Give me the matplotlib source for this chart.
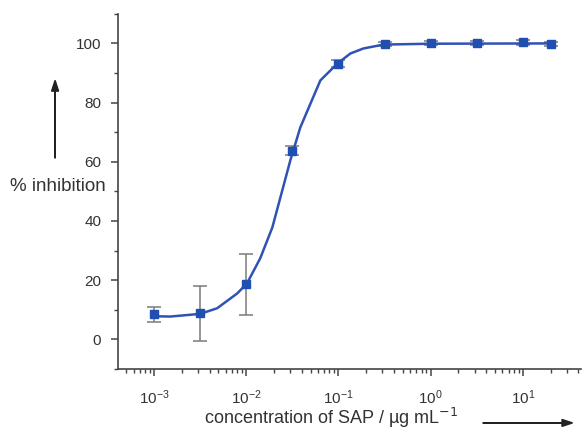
import numpy as np
import matplotlib
matplotlib.use('Agg')
from matplotlib import pyplot as plt
from matplotlib.ticker import LogLocator, MultipleLocator

plt.rcParams['font.family'] = ['Liberation Sans', 'DejaVu Sans']

# measured points
conc = [0.001, 0.00316, 0.01, 0.0316, 0.1, 0.316, 1.0, 3.16, 10.0, 20.0]
inhibition = [8.5, 9.0, 18.8, 63.8, 93.2, 99.8, 100.3, 100.2, 100.4, 99.8]
err_low = [2.5, 9.5, 10.6, 1.6, 1.2, 0.8, 0.8, 0.6, 0.8, 0.8]
err_high = [2.5, 9.0, 10.2, 1.5, 1.3, 0.8, 0.6, 0.6, 0.6, 0.8]

# fitted curve
fit_conc = [0.001, 0.0015, 0.00316, 0.00484, 0.00798, 0.0102, 0.0142, 0.0192,
            0.0246, 0.0301, 0.0386, 0.0637, 0.0975, 0.135, 0.187, 0.308,
            1.0, 20.0]
fit_inh = [7.8, 7.7, 8.6, 10.5, 15.5, 18.9, 27.4, 37.8, 50.3, 60.5, 71.6,
           87.5, 93.2, 96.6, 98.3, 99.6, 99.9, 100.0]

text_col = '#333333'
line_col = '#3052b5'
mark_col = '#1f4fb0'

fig = plt.figure(figsize=(5.86, 4.32), dpi=100)
ax = fig.add_axes([0.2014, 0.146, 0.79, 0.822])

ax.plot(fit_conc, fit_inh, color=line_col, linewidth=1.8, zorder=2)
ax.errorbar(conc, inhibition, yerr=[err_low, err_high], fmt='none',
            ecolor='#7a7a7a', elinewidth=1.1, capsize=5, capthick=1.1, zorder=1)
ax.plot(conc, inhibition, 's', color=mark_col, markersize=6, zorder=3)

ax.set_xscale('log')
ax.set_xlim(10 ** -3.39, 10 ** 1.63)
ax.set_ylim(-10, 110)
ax.yaxis.set_major_locator(MultipleLocator(20))
ax.yaxis.set_minor_locator(MultipleLocator(10))
ax.xaxis.set_major_locator(LogLocator(base=10, numticks=10))
ax.xaxis.set_minor_locator(LogLocator(base=10, subs=np.arange(2, 10), numticks=20))

for side in ['top', 'right']:
    ax.spines[side].set_visible(False)
for side in ['left', 'bottom']:
    ax.spines[side].set_color('#444444')
    ax.spines[side].set_linewidth(1.2)

ax.tick_params(which='major', direction='out', length=5, width=1.1,
               color='#444444', labelsize=11, labelcolor=text_col)
ax.tick_params(axis='y', which='major', pad=7)
ax.tick_params(axis='x', which='major', pad=9)
ax.tick_params(which='minor', direction='out', length=3, width=1.0,
               color='#444444')

fig.text(0.017, 0.569, '% inhibition', fontsize=13.5, color=text_col,
         ha='left', va='center')
fig.text(0.565, 0.033, 'concentration of SAP / \u00b5g mL$^{\u22121}$', fontsize=13,
         color=text_col, ha='center', va='center')

fig.patches.append(matplotlib.patches.FancyArrow(
    0.094, 0.634, 0, 0.18, width=0.0005, head_width=0.012, head_length=0.025,
    length_includes_head=True, color='#222222', transform=fig.transFigure))
fig.patches.append(matplotlib.patches.FancyArrow(
    0.824, 0.021, 0.153, 0, width=0.0007, head_width=0.016, head_length=0.018,
    length_includes_head=True, color='#222222', transform=fig.transFigure))

fig.savefig('out.png', dpi=100)
